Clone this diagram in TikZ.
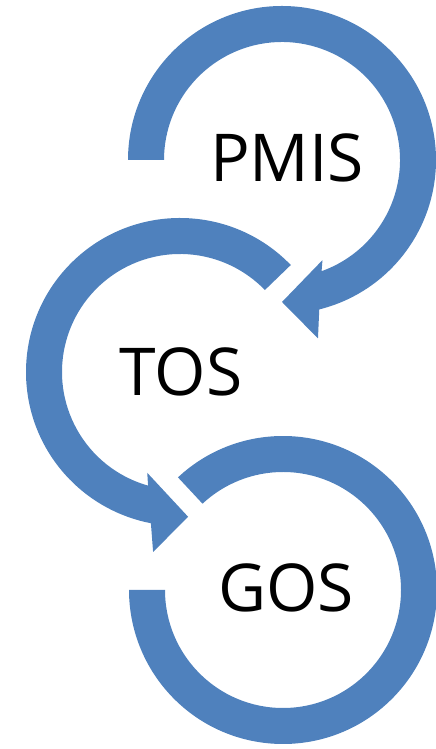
\documentclass[tikz,border=0pt]{standalone}
\usepackage{fontspec}
\setmainfont{Open Sans}
\definecolor{ringblue}{RGB}{79,129,189}
\tikzset{
    band/.style = {fill = ringblue, draw = none},
    word/.style = {font = \fontsize{66}{78}\selectfont, inner sep = 0pt}
}
\begin{document}
\begin{tikzpicture}[x = 1pt, y = 1pt]
                \useasboundingbox (0, 0) rectangle (436, 749);
                \path
                    coordinate (Pc) at (282, 589)
                    coordinate (Tc) at (180, 377)
                    coordinate (Gc) at (283, 159);
                \fill [band] ([shift = {(180:154)}] Pc) arc [start angle = 180, end angle = -76, radius = 154pt]
                    -- ([shift = {(-78.6:182)}] Pc) -- ([shift = {(-90:142)}] Pc) -- ([shift = {(-68:108)}] Pc)
                    -- ([shift = {(-70.4:118)}] Pc) arc [start angle = -70.4, end angle = 180, radius = 118pt] -- cycle;
                \fill [band] ([shift = {(44:154)}] Tc) arc [start angle = 44, end angle = 259.1, radius = 154pt]
                    -- ([shift = {(261.5:182)}] Tc) -- ([shift = {(273.2:145)}] Tc) -- ([shift = {(252:106)}] Tc)
                    -- ([shift = {(254.3:118)}] Tc) arc [start angle = 254.3, end angle = 44, radius = 118pt] -- cycle;
                \fill [band] ([shift = {(133:154)}] Gc) arc [start angle = 133, end angle = -180, radius = 154pt]
                    -- ([shift = {(180:118)}] Gc) arc [start angle = -180, end angle = 133, radius = 118pt] -- cycle;
                \draw
                    node [word] (P) at (287, 591) {PMIS}
                    node [word] (T) at (181, 377) {TOS}
                    node [word] (G) at (286, 161) {GOS};
            \end{tikzpicture}
\end{document}
